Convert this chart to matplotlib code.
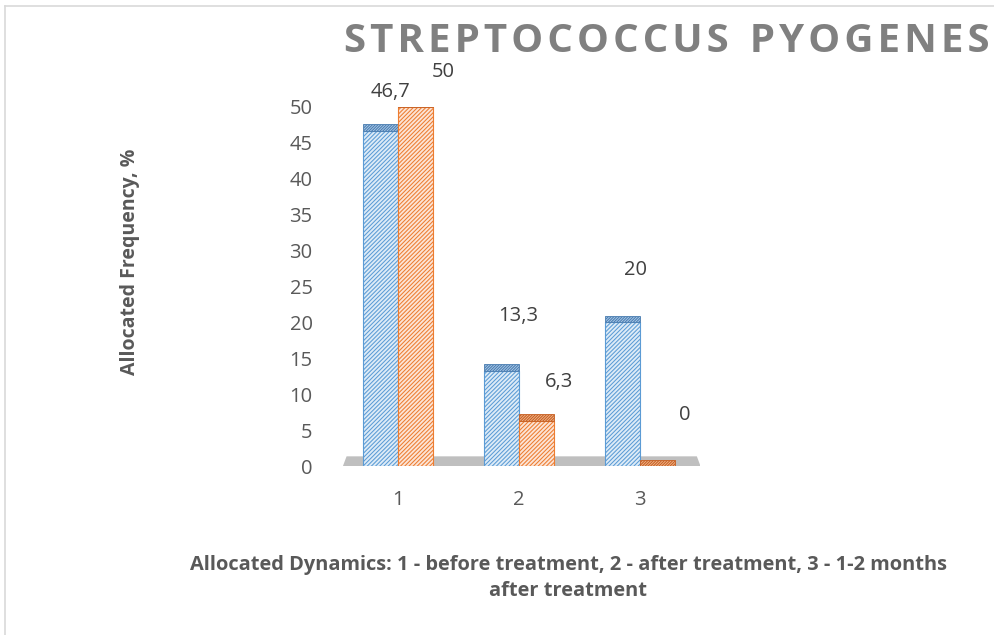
import matplotlib.pyplot as plt
from matplotlib.lines import Line2D
from matplotlib.patches import Polygon

# ── data ───────────────────────────────────────────────────────────────────────
categories = ["1", "2", "3"]
series_a = [46.7, 13.3, 20.0]   # blue
series_b = [50.0, 6.3, 0.0]     # orange
y_ticks = [0, 5, 10, 15, 20, 25, 30, 35, 40, 45, 50]

TITLE = "STREPTOCOCCUS PYOGENES"
Y_LABEL = "Allocated Frequency, %"
X_LABEL = "Allocated Dynamics: 1 - before treatment, 2 - after treatment, 3 - 1-2 months\nafter treatment"

# ── style ──────────────────────────────────────────────────────────────────────
FONT = ["Open Sans", "DejaVu Sans"]
C_TEXT = "#595959"
C_TITLE = "#808080"
C_BORDER = "#D9D9D9"
C_FLOOR = "#BFBFBF"
BLUE = dict(face="#DDEBF7", edge="#5B9BD5", cap="#A9C8E8", cap_edge="#4A7DB0")
ORANGE = dict(face="#FCE4D6", edge="#ED7D31", cap="#F0B48A", cap_edge="#C65F22")
BAR_W = 0.29
CAP_H = 0.9

# label offsets in pixels (dx, dy) from the bar centre / value
OFF_A = [(10, 39), (17, 55), (13, 52)]
OFF_B = [(28, 35), (23, 39), (27, 51)]

plt.rcParams["font.family"] = FONT
plt.rcParams["hatch.linewidth"] = 0.75

fig = plt.figure(figsize=(9.95, 6.35), dpi=100)
ax = fig.add_axes([0.3392, 0.2661, 0.3648, 0.5654])
ax.set_xlim(0.5, 3.5)
ax.set_ylim(0, 50)

# floor
x0, x1 = ax.get_xlim()
floor = Polygon([(x0 + 0.045, 0), (x1, 0), (x1 - 0.03, 1.35), (x0 + 0.075, 1.35)],
                closed=True, facecolor=C_FLOOR, edgecolor="none", zorder=1)
ax.add_patch(floor)

xs = list(range(1, len(categories) + 1))


def draw_series(offset, values, col, offsets):
    pos = [x + offset for x in xs]
    ax.bar(pos, values, width=BAR_W, align="edge", color=col["face"],
           edgecolor=col["edge"], linewidth=0.8, hatch="////////", zorder=3)
    ax.bar(pos, [CAP_H] * len(values), bottom=values, width=BAR_W, align="edge",
           color=col["cap"], edgecolor=col["cap_edge"], linewidth=0.6,
           hatch="////////////", zorder=3)
    for p, v, (dx, dy) in zip(pos, values, offsets):
        ax.annotate(f"{v:g}".replace(".", ","), xy=(p + BAR_W / 2, v),
                    xytext=(dx, dy), textcoords="offset pixels",
                    ha="center", va="center", fontsize=14.5, color="#404040",
                    annotation_clip=False)


draw_series(-BAR_W, series_a, BLUE, OFF_A)
draw_series(0.0, series_b, ORANGE, OFF_B)

ax.set_xticks(xs)
ax.set_xticklabels(categories)
ax.set_yticks(y_ticks)
ax.tick_params(axis="both", length=0, labelsize=14.5, labelcolor=C_TEXT)
ax.tick_params(axis="y", pad=18)
ax.tick_params(axis="x", pad=17)
for s in ax.spines.values():
    s.set_visible(False)

# titles
spaced = "  ".join("\u200a".join(w) for w in TITLE.split(" "))
fig.text(0.67, 0.934, spaced, ha="center", va="center", fontsize=29,
         fontweight="bold", color=C_TITLE)
fig.text(0.131, 0.587, Y_LABEL, rotation=90, ha="center", va="center",
         fontsize=14, fontweight="bold", color=C_TEXT)
fig.text(0.571, 0.09, X_LABEL, ha="center", va="center", fontsize=14.4,
         fontweight="bold", color=C_TEXT, linespacing=1.4)

# chart-area border (top and left edges visible)
fig.add_artist(Line2D([0.005, 1.0], [0.99, 0.99], color=C_BORDER, lw=1.2,
                      transform=fig.transFigure))
fig.add_artist(Line2D([0.005, 0.005], [0.0, 0.99], color=C_BORDER, lw=1.2,
                      transform=fig.transFigure))

fig.savefig("out.png", dpi=100)
